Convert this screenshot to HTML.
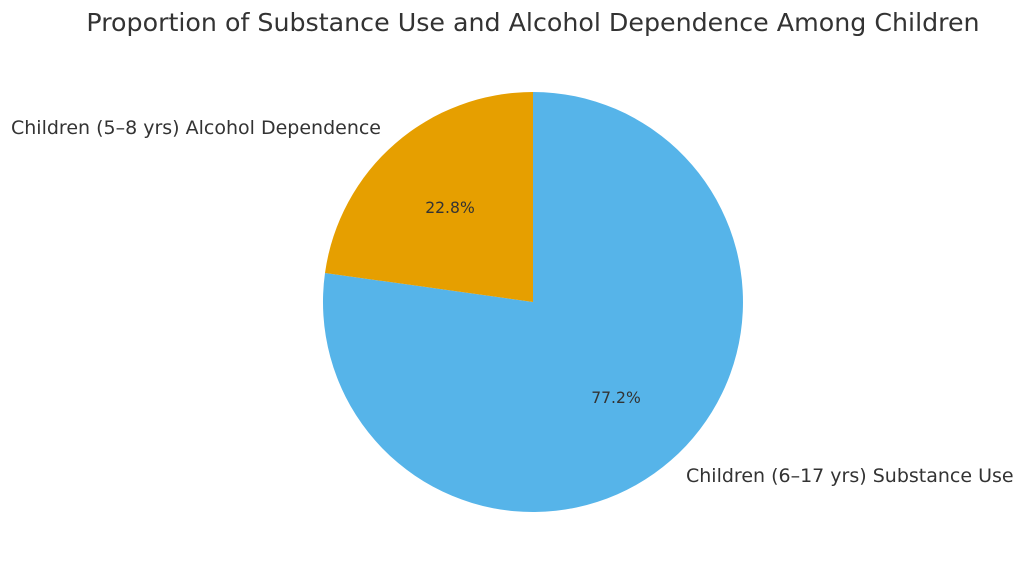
<!DOCTYPE html>
<html><head><meta charset="utf-8"><style>
html,body{margin:0;padding:0;background:#fff;}
svg{display:block;}
text{font-family:"DejaVu Sans","Liberation Sans",sans-serif;fill:#333;}
</style></head><body>
<svg width="1024" height="577" viewBox="0 0 1024 577" xmlns="http://www.w3.org/2000/svg">
<rect width="1024" height="577" fill="#fff"/>
<text x="533" y="31" font-size="25.3" text-anchor="middle">Proportion of Substance Use and Alcohol Dependence Among Children</text>
<path d="M533,302 L533,92 A210,210 0 1 1 325,273 Z" fill="#56B4E9"/>
<path d="M533,302 L325,273 A210,210 0 0 1 533,92 Z" fill="#E69F00"/>
<text x="450" y="213" font-size="15.6" text-anchor="middle">22.8%</text>
<text x="616" y="403" font-size="15.6" text-anchor="middle">77.2%</text>
<text x="381" y="134" font-size="19" text-anchor="end">Children (5–8 yrs) Alcohol Dependence</text>
<text x="686" y="482" font-size="19" text-anchor="start">Children (6–17 yrs) Substance Use</text>
</svg>
</body></html>
